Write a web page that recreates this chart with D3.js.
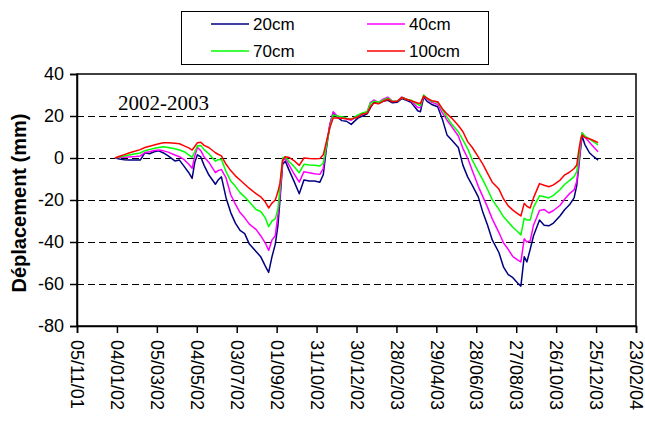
<!DOCTYPE html>
<html><head><meta charset="utf-8">
<script src="https://cdn.jsdelivr.net/npm/d3@7/dist/d3.min.js"></script>
<style>body{margin:0;background:#fff}svg{display:block}</style>
</head><body>
<svg id="c" width="645" height="424"></svg>
<script>
const dates = ["2002-01-01","2002-01-08","2002-01-15","2002-01-22","2002-02-01","2002-02-08","2002-02-15","2002-02-22","2002-03-01","2002-03-08","2002-03-15","2002-03-22","2002-04-01","2002-04-08","2002-04-15","2002-04-22","2002-04-27","2002-05-01","2002-05-05","2002-05-10","2002-05-15","2002-05-22","2002-06-01","2002-06-05","2002-06-10","2002-06-17","2002-06-24","2002-07-01","2002-07-08","2002-07-15","2002-07-22","2002-08-01","2002-08-08","2002-08-15","2002-08-20","2002-08-25","2002-08-30","2002-09-03","2002-09-06","2002-09-10","2002-09-14","2002-09-20","2002-09-27","2002-10-05","2002-10-12","2002-10-20","2002-10-28","2002-11-05","2002-11-10","2002-11-15","2002-11-20","2002-11-25","2002-12-01","2002-12-08","2002-12-15","2002-12-22",
"2003-01-01","2003-01-08","2003-01-15","2003-01-20","2003-01-25","2003-02-01","2003-02-08","2003-02-15","2003-02-22","2003-03-01","2003-03-08","2003-03-15","2003-03-22","2003-04-01","2003-04-05","2003-04-10","2003-04-15","2003-04-22","2003-05-01","2003-05-08","2003-05-15","2003-05-22","2003-06-01","2003-06-08","2003-06-15","2003-06-22","2003-07-01","2003-07-08","2003-07-15","2003-07-22","2003-08-01","2003-08-08","2003-08-15","2003-08-22","2003-08-29","2003-09-03","2003-09-08","2003-09-12","2003-09-17","2003-09-22","2003-10-01","2003-10-08","2003-10-15","2003-10-22","2003-11-01","2003-11-08","2003-11-15","2003-11-22","2003-11-26","2003-11-29","2003-12-02","2003-12-04","2003-12-08","2003-12-15","2003-12-22","2003-12-28"];

const d20cm = [0,-0.5,-0.8,-1, -1,-1,2.5,2.0, 3.0,3.4,2.4,1.0, -1.4,-1.0,-4.0,-7.0,-9.7, -2.0,1.5,0.5,-3.5,-8.0, -12.5,-10.5,-9.0,-19.0,-26.0, -31.0,-34.5,-36.0,-41.0, -44.5,-47.0,-51.5,-54.5,-47.0,-41.0, -32.0,-20.0,-3.0,-1.5,-6.0,-11.0, -17.0,-10.5,-11.0,-11.0, -11.5,-8.0,5.0,16.0,21.5, 19.5,17.8,17.5,16.0,
19.0,20.0,21.0,24.0,26.5, 26.0,27.0,27.5,26.3, 26.5,28.3,27.5,26.5, 22.5,22.0,29.0,27.0,25.5, 24.4,18.5,11.0,8.6, 5.0,-3.5,-9.0,-13.0, -18.5,-26.0,-32.0,-39.0, -45.0,-52.0,-55.5,-57.0,-59.5, -61.0,-47.0,-49.5,-43.5,-37.0, -29.5,-32.0,-32.3,-31.0, -27.5,-24.5,-22.3,-19.0,-13.0,-4.0, 5.0,10.5,6.5,2.5,0.5,-1.0];

const d40cm = [0,0.3,0.4,0.5, 0.7,1.0,2.6,3.0, 3.6,3.8,3.4,2.8, 1.4,0.6,-0.8,-3.0,-4.9, 1.0,5.0,3.5,0.5,-2.0, -7.0,-6.0,-5.5,-9.5,-17.5, -22.0,-26.0,-28.5,-31.5, -34.0,-37.0,-40.5,-44.0,-39.0,-37.0, -27.0,-18.0,-1.5,0.0,-3.5,-7.5, -11.5,-6.5,-7.0,-7.5, -7.8,-5.0,7.0,16.0,22.0, 20.0,19.3,18.6,18.0,
20.0,21.0,22.0,26.5,27.6, 26.5,28.0,29.0,27.0, 27.0,29.0,28.0,27.2, 24.0,24.0,29.8,28.0,26.5, 25.5,21.5,18.0,15.0, 10.5,4.5,0.0,-6.0, -13.5,-18.5,-23.5,-29.0, -35.5,-40.5,-43.5,-47.0,-48.5, -49.5,-38.5,-40.0,-39.5,-32.0, -25.0,-24.5,-26.2,-25.0, -22.5,-19.5,-17.0,-15.2,-11.0,-3.0, 6.0,12.0,10.0,7.5,5.0,3.0];

const d70cm = [0,0.6,1.0,1.4, 2.0,2.4,3.5,4.0, 4.6,5.0,5.4,5.0, 4.4,3.8,3.0,1.5,0.3, 3.0,5.8,6.0,4.0,2.0, -1.5,-0.8,-0.6,-6.5,-11.0, -13.5,-16.5,-18.5,-21.0, -24.5,-25.5,-28.5,-32.7,-30.0,-29.0, -24.0,-14.0,0.0,0.6,-1.8,-4.0, -7.0,-3.0,-3.3,-3.4, -3.8,-2.5,6.5,14.5,20.5, 20.0,19.7,19.0,18.4,
20.5,21.5,22.0,26.0,27.0, 26.5,27.5,28.5,27.0, 27.0,28.8,28.0,27.5, 25.5,25.0,30.0,28.5,27.0, 26.5,23.0,19.5,16.2, 12.5,8.5,4.5,-1.0, -6.5,-10.5,-15.0,-19.8, -24.5,-28.0,-30.5,-33.0,-35.0, -36.7,-28.7,-29.5,-29.5,-23.5, -18.0,-18.5,-19.0,-17.8, -15.0,-12.5,-10.8,-8.9,-6.5,0.0, 9.0,12.0,10.5,9.0,7.5,6.2];

const d100cm = [0,0.8,1.6,2.4, 3.3,4.0,5.0,5.6, 6.2,6.8,7.3,7.3, 7.0,6.8,5.8,4.8,3.8, 5.5,7.3,7.5,6.0,5.0, 2.5,1.8,1.0,-3.0,-6.0, -8.5,-10.5,-12.5,-14.5, -17.0,-18.5,-21.0,-23.8,-21.5,-20.0, -16.0,-12.0,-1.0,0.6,0.2,-1.2, -3.5,0.0,-0.2,-0.3, -0.2,1.5,8.0,14.5,19.0, 19.0,18.9,18.7,18.5,
19.5,21.0,21.3,24.5,26.2, 25.8,27.0,28.0,26.8, 27.0,28.8,28.0,27.3, 26.2,26.0,29.5,28.5,27.3, 26.8,23.5,21.0,19.0, 15.5,12.5,7.8,5.0, 0.5,-3.0,-7.3,-11.5, -14.8,-19.5,-22.8,-24.8,-26.5, -27.6,-21.6,-23.0,-23.8,-19.0, -12.2,-13.0,-13.7,-12.8, -10.5,-8.0,-6.8,-5.0,-3.3,3.5, 9.0,11.0,9.8,9.2,8.2,7.3];

const seriesNames = ["20cm", "40cm", "70cm", "100cm"];
const seriesColors = ["#000080", "#ff00ff", "#00ff00", "#ff0000"];
const xTickLabels = ["05/11/01","04/01/02","05/03/02","04/05/02","03/07/02","01/09/02","31/10/02","30/12/02","28/02/03","29/04/03","28/06/03","27/08/03","26/10/03","25/12/03","23/02/04"];
const yTickValues = [40, 20, 0, -20, -40, -60, -80];
const gridValues = [20, 0, -20, -40, -60];
const yTitle = "Déplacement (mm)";
const annotation = "2002-2003";

const svg = d3.select("#c");
const L = 77, R = 636, T = 74, B = 326;
const parseISO = d3.utcParse("%Y-%m-%d");
const parseTick = d3.utcParse("%d/%m/%y");
const tickDates = xTickLabels.map(parseTick);
const x = d3.scaleUtc().domain([tickDates[0], tickDates[tickDates.length - 1]]).range([L, R]);
const y = d3.scaleLinear().domain([-80, 40]).range([B, T]);
const font = "'Liberation Sans', Arial, sans-serif";

// grid
svg.append("g").selectAll("line").data(gridValues).join("line")
  .attr("x1", L).attr("x2", R).attr("y1", d => Math.round(y(d)) + 0.5).attr("y2", d => Math.round(y(d)) + 0.5)
  .attr("stroke", "#000").attr("stroke-width", 1).attr("stroke-dasharray", "7,4");

// series
const allSeries = [d20cm, d40cm, d70cm, d100cm];
const line = d3.line().x(d => x(d[0])).y(d => y(d[1]));
allSeries.forEach((vals, i) => {
  const pts = dates.map((d, j) => [parseISO(d), vals[j]]);
  svg.append("path").datum(pts).attr("d", line)
    .attr("fill", "none").attr("stroke", seriesColors[i]).attr("stroke-width", 1.5)
    .attr("stroke-linejoin", "round");
});

// frame
svg.append("rect").attr("x", L).attr("y", T).attr("width", R - L).attr("height", B - T)
  .attr("fill", "none").attr("stroke", "#000").attr("stroke-width", 1.5);

// y axis
const yAxis = d3.axisLeft(y).tickValues(yTickValues).tickSize(7).tickPadding(6).tickFormat(d => String(d));
const gy = svg.append("g").attr("transform", `translate(${L},0)`).call(yAxis);
gy.select(".domain").attr("stroke", "#000").attr("stroke-width", 1.5);
gy.selectAll(".tick line").attr("stroke", "#000").attr("stroke-width", 1.5);
gy.selectAll(".tick text").attr("font-family", font).attr("font-size", 18).attr("fill", "#000");

// x axis
const xAxis = d3.axisBottom(x).tickValues(tickDates).tickSize(7).tickFormat((d, i) => xTickLabels[i]);
const gx = svg.append("g").attr("transform", `translate(0,${B})`).call(xAxis);
gx.select(".domain").attr("stroke", "#000").attr("stroke-width", 1.5);
gx.selectAll(".tick line").attr("stroke", "#000").attr("stroke-width", 1.5);
gx.selectAll(".tick text")
  .attr("font-family", font).attr("font-size", 18).attr("fill", "#000")
  .attr("text-anchor", "start").attr("transform", "rotate(90)")
  .attr("x", 14).attr("y", 0).attr("dy", "0.35em");

// y title
svg.append("text").attr("transform", `translate(26,${(T + B) / 2 + 3}) rotate(-90)`)
  .attr("text-anchor", "middle").attr("font-family", font).attr("font-weight", "bold")
  .attr("font-size", 20).text(yTitle);

// annotation
svg.append("text").attr("x", 118).attr("y", 110).attr("font-family", "'Liberation Serif','Times New Roman',serif")
  .attr("font-size", 21).text(annotation);

// legend
const lg = svg.append("g");
lg.append("rect").attr("x", 181.5).attr("y", 11.5).attr("width", 307).attr("height", 53)
  .attr("fill", "#fff").attr("stroke", "#000").attr("stroke-width", 1);
const legPos = [[211, 24], [367, 24], [211, 51], [367, 51]];
seriesNames.forEach((n, i) => {
  const [lx, ly] = legPos[i];
  lg.append("line").attr("x1", lx).attr("x2", lx + 38).attr("y1", ly).attr("y2", ly)
    .attr("stroke", seriesColors[i]).attr("stroke-width", 1.6);
  lg.append("text").attr("x", lx + 42).attr("y", ly).attr("dy", "0.35em")
    .attr("font-family", font).attr("font-size", 17).text(n);
});
</script>
</body></html>
